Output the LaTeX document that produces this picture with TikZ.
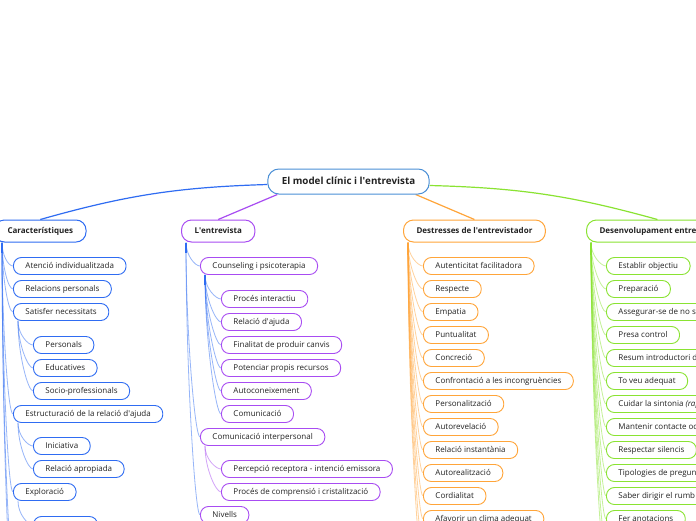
\documentclass[tikz,border=0pt]{standalone}
\usepackage{fontspec}
\setmainfont{Open Sans}
\usetikzlibrary{calc,backgrounds}
\definecolor{cblue}{HTML}{2F6CF2}
\definecolor{cpur}{HTML}{A84CF2}
\definecolor{cora}{HTML}{FFA53A}
\definecolor{cgre}{HTML}{8AE332}
\definecolor{croot}{HTML}{4A8FD6}
\definecolor{txt}{HTML}{222222}
\newcommand\apo{\textquotesingle}
\begin{document}
\begin{tikzpicture}[x=1pt,y=1pt,
 lone/.style={draw=#1, fill=white, rounded corners=10pt, minimum height=22pt, inner xsep=13pt, inner ysep=0pt, anchor=west, font=\bfseries\fontsize{8}{9}\selectfont, text=txt, line width=1pt, text height=6pt, text depth=2pt},
 ltwo/.style={draw=#1, fill=white, rounded corners=8pt, minimum height=17pt, inner xsep=12pt, inner ysep=0pt, anchor=west, font=\fontsize{8}{9}\selectfont, text=txt, line width=0.9pt, text height=6pt, text depth=2pt},
 con/.style={draw=#1, line width=0.8pt, opacity=0.5},
 stub/.style={draw=#1, line width=1.8pt},
 br/.style={out=-90, in=180, out looseness=1.2, in distance=5pt},
 rootcon/.style={draw=#1, line width=1.2pt}]
\useasboundingbox (0,0) rectangle (696,-520);

% root
\node[draw=croot, fill=white, rounded corners=11pt, minimum height=25pt, inner xsep=14pt, inner ysep=0pt, font=\bfseries\fontsize{9.8}{11}\selectfont, text=txt, line width=1pt, text height=7pt, text depth=2pt] (root) at (348.5,-181.5) {El model clínic i l\apo entrevista};

% level 1
\node[lone=cblue] (car) at (-6,-231) {Característiques};
\node[lone=cpur] (ent) at (181,-231) {L\apo entrevista};
\node[lone=cora] (des) at (403,-231) {Destresses de l\apo entrevistador};
\node[lone=cgre] (dev) at (586,-231) {Desenvolupament entrevista};

% Caracteristiques
\node[ltwo=cblue] (c1) at (13,-266) {Atenció individualitzada};
\node[ltwo=cblue] (c2) at (13,-289) {Relacions personals};
\node[ltwo=cblue] (c3) at (13,-312) {Satisfer necessitats};
\node[ltwo=cblue] (c31) at (33,-345) {Personals};
\node[ltwo=cblue] (c32) at (33,-368) {Educatives};
\node[ltwo=cblue] (c33) at (33,-391) {Socio-professionals};
\node[ltwo=cblue] (c4) at (13,-414) {Estructuració de la relació d\apo ajuda};
\node[ltwo=cblue] (c41) at (33,-446) {Iniciativa};
\node[ltwo=cblue] (c42) at (33,-469) {Relació apropiada};
\node[ltwo=cblue] (c5) at (13,-492) {Exploració};
\node[ltwo=cblue, minimum width=64pt] (c51) at (33,-525) {};

% L'entrevista
\node[ltwo=cpur] (e1) at (200,-266) {Counseling i psicoterapia};
\node[ltwo=cpur] (e11) at (221,-299) {Procés interactiu};
\node[ltwo=cpur] (e12) at (221,-322) {Relació d\apo ajuda};
\node[ltwo=cpur] (e13) at (221,-345) {Finalitat de produir canvis};
\node[ltwo=cpur] (e14) at (221,-368) {Potenciar propis recursos};
\node[ltwo=cpur] (e15) at (221,-391) {Autoconeixement};
\node[ltwo=cpur] (e16) at (221,-414) {Comunicació};
\node[ltwo=cpur] (e2) at (200,-437) {Comunicació interpersonal};
\node[ltwo=cpur] (e21) at (221,-469) {Percepció receptora - intenció emissora};
\node[ltwo=cpur] (e22) at (221,-492) {Procés de comprensió i cristalització};
\node[ltwo=cpur] (e3) at (200,-515) {Nivells};

% Destresses
\foreach \t [count=\i] in {Autenticitat facilitadora, Respecte, Empatia, Puntualitat, Concreció, Confrontació a les incongruències, Personalització, Autorevelació, Relació instantània, Autorealització, Cordialitat, Afavorir un clima adequat}
  \node[ltwo=cora] (d\i) at (423,{-243-23*\i}) {\t};

% Desenvolupament
\foreach \t [count=\i] in {Establir objectiu, Preparació, Assegurar-se de no ser interromputs, Presa control, Resum introductori de l\apo entrevista, To veu adequat, {Cuidar la sintonia \textit{(rapport)}}, Mantenir contacte ocular, Respectar silencis, Tipologies de preguntes, Saber dirigir el rumb de l\apo entrevista, Fer anotacions}
  \node[ltwo=cgre] (v\i) at (606,{-243-23*\i}) {\t};

% trunk points
\coordinate (carT) at ($(car.south west)+(8,0)$);
\coordinate (c3T) at ($(c3.south west)+(5,0)$);
\coordinate (c4T) at ($(c4.south west)+(5,0)$);
\coordinate (c5T) at ($(c5.south west)+(5,0)$);
\coordinate (entT) at ($(ent.south west)+(5,0)$);
\coordinate (e1T) at ($(e1.south west)+(5,0)$);
\coordinate (e2T) at ($(e2.south west)+(5,0)$);
\coordinate (desT) at ($(des.south west)+(5,0)$);
\coordinate (devT) at ($(dev.south west)+(5,0)$);
\coordinate (carM1) at (13,-560);
\coordinate (carM2) at (13,-590);
\coordinate (desM1) at (423,-545);
\coordinate (desM2) at (423,-570);
\coordinate (devM1) at (606,-545);
\coordinate (devM2) at (606,-570);

\begin{scope}[on background layer]
\fill[white] (0,0) rectangle (696,-520);
% root connectors
\draw[rootcon=cblue] ($(root.west)+(0,-3)$) to[bend right=7] (car.north);
\draw[rootcon=cpur] ($(root.south west)+(10,0)$) -- (ent.north);
\draw[rootcon=cora] ($(root.south east)+(-14,0)$) -- (des.north);
\draw[rootcon=cgre] ($(root.east)+(0,-4)$) to[bend left=7] (dev.north);
% stubs
\draw[stub=cblue] (carT) -- ++(0,-10);
\draw[stub=cblue] (entT) -- ++(0,-10);
\draw[stub=cblue] (e1T) -- ++(0,-10);
\draw[stub=cora] (desT) -- ++(0,-12);
\draw[stub=cgre] (devT) -- ++(0,-12);
% Caracteristiques
\foreach \n in {c1,c2,c3,c4,c5,carM1,carM2} \draw[con=cblue] (carT) to[br] (\n.west);
\foreach \n in {c31,c32,c33} \draw[con=cblue] (c3T) to[br] (\n.west);
\foreach \n in {c41,c42} \draw[con=cblue] (c4T) to[br] (\n.west);
\draw[con=cblue] (c5T) to[br] (c51.west);
% L'entrevista
\foreach \n in {e1,e2,e3} \draw[con=cblue] (entT) to[br] (\n.west);
\foreach \n in {e11,e12,e13,e14,e15,e16} \draw[con=cblue] (e1T) to[br] (\n.west);
\foreach \n in {e21,e22} \draw[con=cpur] (e2T) to[br] (\n.west);
% Destresses
\foreach \i in {1,...,12} \draw[con=cora] (desT) to[br] (d\i.west);
\draw[con=cora] (desT) to[br] (desM1);
\draw[con=cora] (desT) to[br] (desM2);
% Desenvolupament
\foreach \i in {1,...,12} \draw[con=cgre] (devT) to[br] (v\i.west);
\draw[con=cgre] (devT) to[br] (devM1);
\draw[con=cgre] (devT) to[br] (devM2);
\end{scope}
\end{tikzpicture}
\end{document}
